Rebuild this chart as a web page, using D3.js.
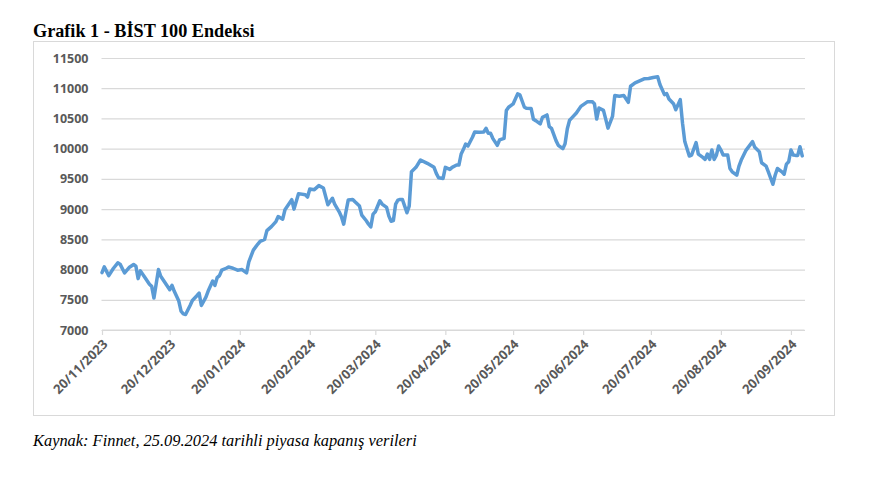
<!DOCTYPE html>
<html><head><meta charset="utf-8">
<script src="https://cdn.jsdelivr.net/npm/d3@7/dist/d3.min.js"></script>
<style>body{margin:0;background:#fff}</style>
</head><body>
<svg id="c" width="873" height="492"></svg>
<script>
const title = "Grafik 1 - BİST 100 Endeksi";
const source = "Kaynak: Finnet, 25.09.2024 tarihli piyasa kapanış verileri";
const yTicks = [7000,7500,8000,8500,9000,9500,10000,10500,11000,11500];
const xTickDates = ["2023-11-20","2023-12-20","2024-01-20","2024-02-20","2024-03-20","2024-04-20","2024-05-20","2024-06-20","2024-07-20","2024-08-20","2024-09-20"];
const dates = ["2023-11-20","2023-11-21","2023-11-23","2023-11-25","2023-11-27","2023-11-28","2023-11-30","2023-12-02","2023-12-04","2023-12-05","2023-12-06","2023-12-07","2023-12-09","2023-12-11","2023-12-12","2023-12-13","2023-12-15","2023-12-16","2023-12-18","2023-12-20","2023-12-21","2023-12-22","2023-12-24","2023-12-25","2023-12-26","2023-12-27","2023-12-29","2023-12-30","2024-01-01","2024-01-02","2024-01-03","2024-01-05","2024-01-06","2024-01-08","2024-01-09","2024-01-10","2024-01-11","2024-01-12","2024-01-14","2024-01-15","2024-01-17","2024-01-19","2024-01-21","2024-01-23","2024-01-24","2024-01-26","2024-01-28","2024-01-29","2024-01-31","2024-02-01","2024-02-03","2024-02-05","2024-02-06","2024-02-08","2024-02-09","2024-02-12","2024-02-13","2024-02-15","2024-02-18","2024-02-19","2024-02-20","2024-02-22","2024-02-24","2024-02-26","2024-02-28","2024-03-01","2024-03-02","2024-03-04","2024-03-05","2024-03-06","2024-03-07","2024-03-08","2024-03-10","2024-03-11","2024-03-13","2024-03-14","2024-03-16","2024-03-17","2024-03-18","2024-03-19","2024-03-20","2024-03-22","2024-03-23","2024-03-25","2024-03-26","2024-03-27","2024-03-28","2024-03-29","2024-03-30","2024-03-31","2024-04-01","2024-04-02","2024-04-03","2024-04-04","2024-04-05","2024-04-07","2024-04-09","2024-04-12","2024-04-15","2024-04-16","2024-04-17","2024-04-19","2024-04-20","2024-04-22","2024-04-23","2024-04-25","2024-04-26","2024-04-27","2024-04-28","2024-04-29","2024-04-30","2024-05-02","2024-05-03","2024-05-05","2024-05-07","2024-05-08","2024-05-09","2024-05-10","2024-05-11","2024-05-13","2024-05-14","2024-05-16","2024-05-17","2024-05-18","2024-05-20","2024-05-22","2024-05-23","2024-05-25","2024-05-26","2024-05-28","2024-05-29","2024-05-30","2024-06-01","2024-06-02","2024-06-04","2024-06-05","2024-06-06","2024-06-08","2024-06-09","2024-06-11","2024-06-12","2024-06-13","2024-06-14","2024-06-15","2024-06-17","2024-06-19","2024-06-22","2024-06-24","2024-06-25","2024-06-26","2024-06-27","2024-06-29","2024-06-30","2024-07-01","2024-07-03","2024-07-04","2024-07-06","2024-07-08","2024-07-10","2024-07-11","2024-07-13","2024-07-15","2024-07-17","2024-07-19","2024-07-21","2024-07-23","2024-07-24","2024-07-26","2024-07-27","2024-07-28","2024-07-30","2024-07-31","2024-08-02","2024-08-03","2024-08-04","2024-08-06","2024-08-07","2024-08-09","2024-08-10","2024-08-12","2024-08-13","2024-08-14","2024-08-15","2024-08-16","2024-08-17","2024-08-18","2024-08-19","2024-08-20","2024-08-21","2024-08-23","2024-08-24","2024-08-25","2024-08-27","2024-08-28","2024-08-29","2024-08-31","2024-09-03","2024-09-04","2024-09-06","2024-09-07","2024-09-09","2024-09-10","2024-09-12","2024-09-13","2024-09-14","2024-09-16","2024-09-17","2024-09-18","2024-09-19","2024-09-20","2024-09-21","2024-09-22","2024-09-23","2024-09-24","2024-09-25"];
const values = [7950,8044,7900,8017,8111,8089,7944,8033,8083,8056,7850,7978,7867,7756,7722,7528,8000,7889,7778,7667,7740,7640,7478,7311,7267,7256,7406,7489,7567,7611,7406,7544,7644,7811,7739,7867,7900,7989,8022,8044,8022,7989,8000,7944,8128,8322,8422,8467,8500,8644,8711,8794,8878,8833,8989,9156,9000,9256,9239,9200,9333,9322,9389,9350,9072,9180,9083,8956,8873,8751,8956,9149,9160,9122,9050,8901,8807,8751,8707,8917,8956,9138,9083,9028,8884,8800,8810,9083,9149,9160,9160,9050,8939,9050,9619,9691,9812,9757,9691,9591,9519,9508,9691,9657,9691,9729,9729,9912,9989,10077,10044,10188,10276,10271,10276,10337,10254,10254,10171,10055,10144,10171,10630,10685,10740,10906,10890,10685,10668,10663,10486,10464,10409,10519,10558,10365,10337,10133,10055,10000,10080,10330,10470,10510,10589,10700,10778,10778,10744,10489,10672,10633,10489,10339,10533,10878,10867,10878,10767,11033,11089,11122,11156,11161,11178,11189,11061,10894,10911,10822,10744,10644,10811,10422,10117,9878,9894,10100,9911,9856,9822,9911,9822,9978,9822,9894,10044,9978,9894,9894,9672,9617,9561,9711,9811,9967,10117,10022,9950,9767,9711,9617,9411,9561,9672,9617,9578,9744,9783,9978,9894,9889,9889,10033,9880];

const parse = d3.timeParse("%Y-%m-%d");
const fmt = d3.timeFormat("%d/%m/%Y");
const data = dates.map((d,i)=>({date:parse(d), value:values[i]}));

const svg = d3.select("#c");
const pLeft = 102, pRight = 804.5, pTop = 58, pBottom = 330;

const x = d3.scaleTime().domain([parse("2023-11-20"), parse("2024-09-26")]).range([pLeft, pRight]);
const y = d3.scaleLinear().domain([7000, 11500]).range([pBottom, pTop]);

svg.append("text").attr("x",33).attr("y",37)
  .style("font-family","'Liberation Serif','Times New Roman',serif").style("font-weight","bold").style("font-size","18.2px")
  .attr("fill","#000").text(title);

svg.append("rect").attr("x",33.5).attr("y",41.5).attr("width",801).attr("height",374)
  .attr("fill","none").attr("stroke","#d9d9d9").attr("stroke-width",1);

// grid
const yAxis = d3.axisLeft(y).tickValues(yTicks).tickSize(-(pRight-pLeft+1)).tickPadding(13).tickFormat(d3.format("d"));
const gy = svg.append("g").attr("transform",`translate(${pLeft-0.5},0)`).call(yAxis);
gy.select(".domain").remove();
gy.selectAll(".tick line").attr("stroke","#d9d9d9").attr("stroke-width",1.2);
gy.selectAll(".tick text").attr("fill","#595959")
  .style("font-family","'Open Sans',sans-serif").style("font-weight","bold").style("font-size","12.5px");

// x axis
const xAxis = d3.axisBottom(x).tickValues(xTickDates.map(parse)).tickSize(5).tickFormat(fmt);
const gx = svg.append("g").attr("transform",`translate(0,${pBottom})`).call(xAxis);
gx.select(".domain").attr("stroke","#d9d9d9").attr("stroke-width",1.2).attr("d",`M${pLeft},0H${pRight}`);
gx.selectAll(".tick line").attr("stroke","#d9d9d9").attr("stroke-width",1.2);
gx.selectAll(".tick text").attr("fill","#595959")
  .style("font-family","'Open Sans',sans-serif").style("font-weight","bold").style("font-size","13px")
  .attr("text-anchor","end").attr("dy",null).attr("y",0)
  .attr("transform","translate(6,15) rotate(-45)");

// line
const line = d3.line().x(d=>x(d.date)).y(d=>y(d.value)).curve(d3.curveLinear);
svg.append("path").datum(data).attr("d",line).attr("fill","none")
  .attr("stroke","#5b9bd5").attr("stroke-width",3.5).attr("stroke-linejoin","round").attr("stroke-linecap","round");

svg.append("text").attr("x",33).attr("y",446)
  .style("font-family","'Liberation Serif','Times New Roman',serif").style("font-style","italic").style("font-size","16.4px")
  .attr("fill","#000").text(source);
</script>
</body></html>
